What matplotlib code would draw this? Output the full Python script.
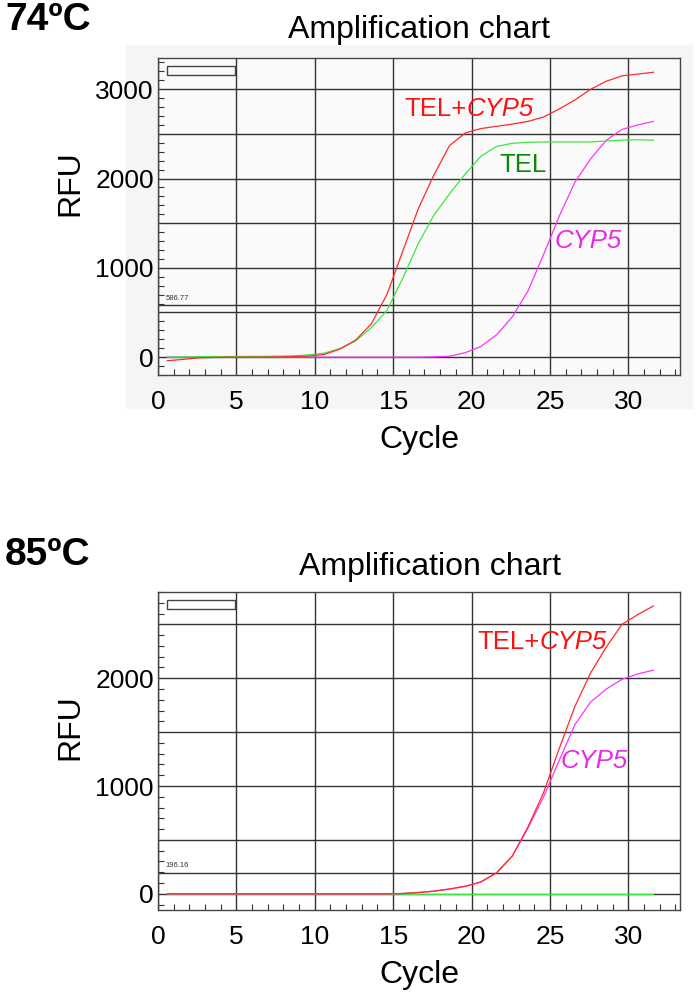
import matplotlib
matplotlib.use("Agg")
import matplotlib.pyplot as plt
from matplotlib.patches import Rectangle
from matplotlib.ticker import MultipleLocator, FuncFormatter

plt.rcParams['font.family'] = ['Liberation Sans', 'DejaVu Sans']

# cycles at which the instrument reports a reading
cycles = [0.6, 1.6, 2.6, 3.6, 4.6, 5.6, 6.6, 7.6, 8.6, 9.6, 10.6, 11.6, 12.6,
          13.6, 14.6, 15.6, 16.6, 17.6, 18.6, 19.6, 20.6, 21.6, 22.6, 23.6,
          24.6, 25.6, 26.6, 27.6, 28.6, 29.6, 30.6, 31.6]

# 74ºC run
rfu74_tel_cyp5 = [-40, -25, -8, -3, 0, 0, 0, 2, 5, 12, 30, 90, 190, 370, 700,
                  1180, 1660, 2040, 2370, 2510, 2560, 2585, 2610, 2640, 2690,
                  2780, 2880, 3000, 3090, 3150, 3170, 3190]
rfu74_tel = [0, 2, 5, 6, 7, 8, 9, 11, 15, 25, 45, 95, 180, 330, 520, 880,
             1270, 1590, 1830, 2050, 2250, 2360, 2395, 2405, 2410, 2410, 2410,
             2410, 2420, 2430, 2435, 2430]
rfu74_cyp5 = [0, 0, 0, 0, 0, 0, 0, 0, 0, 0, 0, 0, 0, 0, 0, 0, 0, 3, 10, 50,
              120, 250, 450, 740, 1150, 1580, 1960, 2220, 2430, 2550, 2600,
              2640]
thr74 = 586.77

# 85ºC run
rfu85_tel_cyp5 = [0, 0, 0, 0, 0, 0, 0, 0, 0, 0, 0, 0, 0, 0, 0, 3, 12, 25, 45,
                  70, 110, 195, 350, 620, 940, 1350, 1740, 2050, 2290, 2500,
                  2590, 2670]
rfu85_tel = [0] * len(cycles)
rfu85_cyp5 = [0, 0, 0, 0, 0, 0, 0, 0, 0, 0, 0, 0, 0, 0, 0, 3, 12, 25, 45, 70,
              110, 195, 350, 610, 900, 1240, 1570, 1780, 1900, 1990, 2040,
              2075]
thr85 = 196.16

RED = '#ff2a2a'
GREEN = '#3de83d'
MAGENTA = '#ff33ff'

W, H = 697, 997
fig = plt.figure(figsize=(W / 100, H / 100), dpi=100)


def fx(px):
    return px / W


def fy(py):
    return 1 - py / H


# faint grey panel behind the first chart, as in the instrument export
fig.patches.append(Rectangle((fx(126), fy(408)), fx(566), (408 - 45) / H,
                             transform=fig.transFigure, color='#f5f5f5',
                             zorder=-5))


def panel(top, bottom, ylim, series, threshold, face):
    ax = fig.add_axes([fx(158), fy(bottom), fx(680 - 158), (bottom - top) / H])
    ax.set_facecolor(face)
    ax.set_xlim(0, 33.3)
    ax.set_ylim(*ylim)
    ax.xaxis.set_major_locator(MultipleLocator(5))
    ax.xaxis.set_minor_locator(MultipleLocator(1))
    ax.yaxis.set_major_locator(MultipleLocator(500))
    ax.yaxis.set_minor_locator(MultipleLocator(100))
    ax.yaxis.set_major_formatter(FuncFormatter(
        lambda v, p: f"{v:.0f}" if v % 1000 == 0 else ""))
    ax.grid(True, which='major', color='#333333', lw=1.0)
    ax.tick_params(which='major', length=0, labelsize=19)
    ax.tick_params(axis='x', which='major', pad=11)
    ax.tick_params(axis='y', which='major', pad=3)
    ax.tick_params(which='minor', direction='in', length=4, width=0.8,
                   color='#333333')
    for s in ax.spines.values():
        s.set_color('#444444')
        s.set_linewidth(1.0)
    for y, c in series:
        ax.plot(cycles, y, color=c, lw=0.9, zorder=3)
    ax.axhline(threshold, color='#333333', lw=1.0, zorder=2)
    ax.text(0.5, threshold + 30, f"{threshold:.2f}", fontsize=5.5,
            color='#333333', va='bottom')
    ax.add_patch(Rectangle((0.017, 0.946), 0.13, 0.03,
                           transform=ax.transAxes, fill=False,
                           edgecolor='#444444', lw=1.0, zorder=4))
    ax.set_xlabel('Cycle', fontsize=23, labelpad=8)
    return ax


# ---- 74ºC ----
ax1 = panel(58, 375, (-200, 3350),
            [(rfu74_cyp5, MAGENTA), (rfu74_tel, GREEN),
             (rfu74_tel_cyp5, RED)], thr74, '#fafafa')
fig.text(0.007, fy(20), '74ºC', fontsize=28, fontweight='bold', va='center')
fig.text(fx(419), fy(30), 'Amplification chart', fontsize=23,
         ha='center', va='center')
fig.text(fx(70), fy(183), 'RFU', fontsize=23, rotation=90,
         ha='center', va='center')
t = ax1.text(15.7, 2780, 'TEL+', color='#ff1010', fontsize=18.5, va='center')
ax1.annotate('CYP5', xycoords=t, xy=(1, 0), va='bottom', color='#ff1010',
             fontsize=18.5, style='italic')
ax1.text(21.8, 2150, 'TEL', color='#0a8a0a', fontsize=18.5, va='center')
ax1.text(25.3, 1300, 'CYP5', color='#e82ae8', fontsize=18.5, va='center',
         style='italic')

# ---- 85ºC ----
ax2 = panel(592, 910, (-150, 2800),
            [(rfu85_tel, GREEN), (rfu85_cyp5, MAGENTA),
             (rfu85_tel_cyp5, RED)], thr85, 'white')
fig.text(0.007, fy(555), '85ºC', fontsize=28, fontweight='bold', va='center')
fig.text(fx(430), fy(567), 'Amplification chart', fontsize=23,
         ha='center', va='center')
fig.text(fx(70), fy(727), 'RFU', fontsize=23, rotation=90,
         ha='center', va='center')
t = ax2.text(20.4, 2335, 'TEL+', color='#ff1010', fontsize=18.5, va='center')
ax2.annotate('CYP5', xycoords=t, xy=(1, 0), va='bottom', color='#ff1010',
             fontsize=18.5, style='italic')
ax2.text(25.7, 1230, 'CYP5', color='#e82ae8', fontsize=18.5, va='center',
         style='italic')

fig.savefig('out.png', dpi=100)
